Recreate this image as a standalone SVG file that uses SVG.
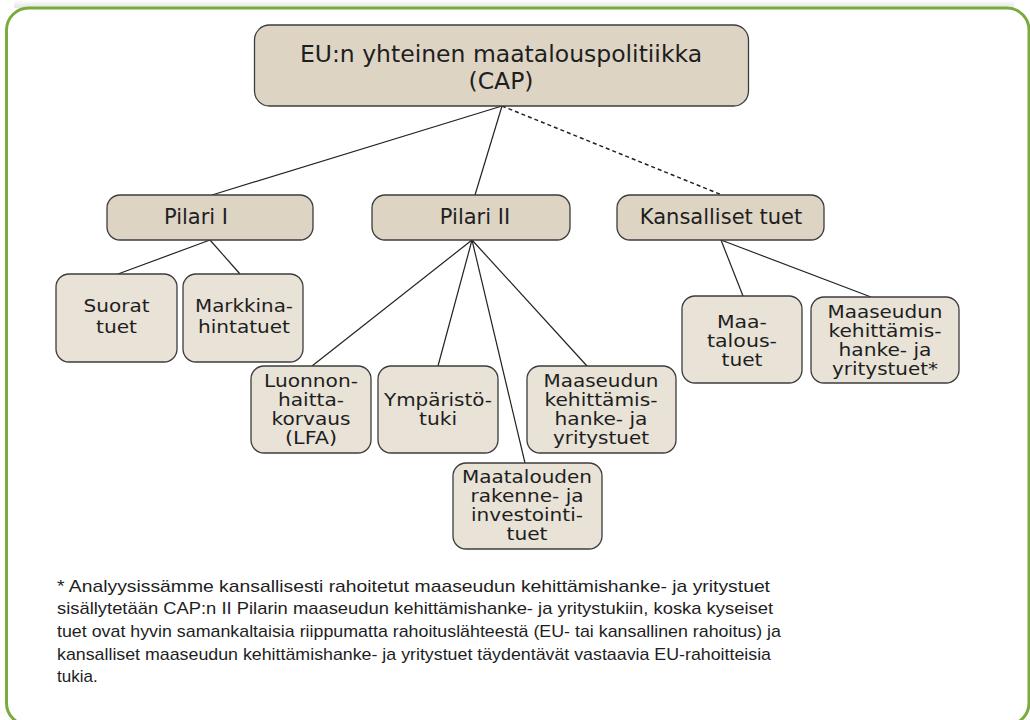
<svg xmlns="http://www.w3.org/2000/svg" width="1030" height="720" viewBox="0 0 1030 720">
<defs>
<linearGradient id="shadow" x1="0" y1="0" x2="0" y2="1">
<stop offset="0" stop-color="#ffffff"/>
<stop offset="1" stop-color="#e4e4e4"/>
</linearGradient>
</defs>
<style>
.frame{fill:#ffffff;stroke:#7aab3c;stroke-width:3}
.hd{fill:#ddd4c4;stroke:#3c3c3c;stroke-width:1.3}
.lf{fill:#e8e2d7;stroke:#3c3c3c;stroke-width:1.3}
.t{font-family:"DejaVu Sans",sans-serif;fill:#1e1e1e;text-anchor:middle}
.t24{font-size:23.5px}
.t21{font-size:21px}
.s{font-size:17.5px}
.fn{font-family:"Liberation Sans",Arial,sans-serif;font-size:17px;fill:#1e1e1e}
.cn{stroke:#222;stroke-width:1.2;fill:none}
.dash{stroke-dasharray:4 3;stroke-width:1.6}
</style>
<rect x="0" y="0" width="1030" height="720" fill="#ffffff"/>
<rect x="14" y="0" width="1000" height="8" fill="url(#shadow)"/>
<rect class="frame" x="6.5" y="8" width="1022.5" height="717" rx="22"/>
<g id="connectors">
<line class="cn" x1="502" y1="106" x2="212" y2="195"/>
<line class="cn" x1="502" y1="106" x2="475" y2="195"/>
<line class="cn dash" x1="502" y1="106" x2="722" y2="195"/>
<line class="cn" x1="210" y1="240" x2="118" y2="274"/>
<line class="cn" x1="210" y1="240" x2="240" y2="274"/>
<line class="cn" x1="472" y1="240" x2="312" y2="366"/>
<line class="cn" x1="472" y1="240" x2="438" y2="366"/>
<line class="cn" x1="472" y1="240" x2="525" y2="463"/>
<line class="cn" x1="472" y1="240" x2="587" y2="366"/>
<line class="cn" x1="721" y1="240" x2="743" y2="296"/>
<line class="cn" x1="721" y1="240" x2="871" y2="297"/>
</g>
<g id="cap">
<rect class="hd" x="254.5" y="25" width="494" height="81" rx="15"/>
<text class="t t24" x="501" y="62">EU:n yhteinen maatalouspolitiikka</text>
<text class="t t24" x="501" y="89">(CAP)</text>
</g>
<g id="pilari1">
<rect class="hd" x="107" y="195" width="206" height="45" rx="13"/>
<text class="t t21" x="196" y="224">Pilari I</text>
</g>
<g id="pilari2">
<rect class="hd" x="372" y="195" width="198" height="45" rx="13"/>
<text class="t t21" x="475" y="224">Pilari II</text>
</g>
<g id="kansalliset">
<rect class="hd" x="617" y="195" width="207" height="45" rx="13"/>
<text class="t t21" x="721" y="224">Kansalliset tuet</text>
</g>
<g id="suorat">
<rect class="lf" x="56" y="274" width="121" height="88" rx="13"/>
<text class="t s" x="116.5" y="312" textLength="66" lengthAdjust="spacingAndGlyphs">Suorat</text>
<text class="t s" x="116.5" y="333" textLength="41" lengthAdjust="spacingAndGlyphs">tuet</text>
</g>
<g id="markkina">
<rect class="lf" x="183" y="274" width="120" height="88" rx="13"/>
<text class="t s" x="244" y="312" textLength="98" lengthAdjust="spacingAndGlyphs">Markkina-</text>
<text class="t s" x="244" y="333" textLength="92" lengthAdjust="spacingAndGlyphs">hintatuet</text>
</g>
<g id="luonnon">
<rect class="lf" x="251" y="366" width="120" height="87" rx="13"/>
<text class="t s" x="311" y="387" textLength="94" lengthAdjust="spacingAndGlyphs">Luonnon-</text>
<text class="t s" x="311" y="406" textLength="66" lengthAdjust="spacingAndGlyphs">haitta-</text>
<text class="t s" x="311" y="425" textLength="79" lengthAdjust="spacingAndGlyphs">korvaus</text>
<text class="t s" x="311" y="444" textLength="52" lengthAdjust="spacingAndGlyphs">(LFA)</text>
</g>
<g id="ymparisto">
<rect class="lf" x="378" y="366" width="120" height="87" rx="13"/>
<text class="t s" x="438" y="406" textLength="108" lengthAdjust="spacingAndGlyphs">Ympäristö-</text>
<text class="t s" x="438" y="425" textLength="38" lengthAdjust="spacingAndGlyphs">tuki</text>
</g>
<g id="maaseudun2">
<rect class="lf" x="527" y="366" width="149" height="87" rx="13"/>
<text class="t s" x="601" y="387" textLength="115" lengthAdjust="spacingAndGlyphs">Maaseudun</text>
<text class="t s" x="601" y="406" textLength="113" lengthAdjust="spacingAndGlyphs">kehittämis-</text>
<text class="t s" x="601" y="425" textLength="93" lengthAdjust="spacingAndGlyphs">hanke- ja</text>
<text class="t s" x="601" y="444" textLength="96" lengthAdjust="spacingAndGlyphs">yritystuet</text>
</g>
<g id="maatalouden">
<rect class="lf" x="453" y="463" width="149" height="86" rx="13"/>
<text class="t s" x="527" y="483" textLength="130" lengthAdjust="spacingAndGlyphs">Maatalouden</text>
<text class="t s" x="527" y="502" textLength="113" lengthAdjust="spacingAndGlyphs">rakenne- ja</text>
<text class="t s" x="527" y="521" textLength="112" lengthAdjust="spacingAndGlyphs">investointi-</text>
<text class="t s" x="527" y="540" textLength="41" lengthAdjust="spacingAndGlyphs">tuet</text>
</g>
<g id="maatalous">
<rect class="lf" x="682" y="296" width="120" height="87" rx="13"/>
<text class="t s" x="742" y="328" textLength="50" lengthAdjust="spacingAndGlyphs">Maa-</text>
<text class="t s" x="742" y="347" textLength="70" lengthAdjust="spacingAndGlyphs">talous-</text>
<text class="t s" x="742" y="366" textLength="41" lengthAdjust="spacingAndGlyphs">tuet</text>
</g>
<g id="maaseudun-k">
<rect class="lf" x="811" y="297" width="148" height="86" rx="13"/>
<text class="t s" x="885" y="318" textLength="115" lengthAdjust="spacingAndGlyphs">Maaseudun</text>
<text class="t s" x="885" y="337" textLength="113" lengthAdjust="spacingAndGlyphs">kehittämis-</text>
<text class="t s" x="885" y="356" textLength="93" lengthAdjust="spacingAndGlyphs">hanke- ja</text>
<text class="t s" x="885" y="375" textLength="106" lengthAdjust="spacingAndGlyphs">yritystuet*</text>
</g>
<g id="footnote">
<text class="fn" x="57" y="592" textLength="713" lengthAdjust="spacingAndGlyphs">* Analyysissämme kansallisesti rahoitetut maaseudun kehittämishanke- ja yritystuet</text>
<text class="fn" x="57" y="614" textLength="716" lengthAdjust="spacingAndGlyphs">sisällytetään CAP:n II Pilarin maaseudun kehittämishanke- ja yritystukiin, koska kyseiset</text>
<text class="fn" x="57" y="637" textLength="724" lengthAdjust="spacingAndGlyphs">tuet ovat hyvin samankaltaisia riippumatta rahoituslähteestä (EU- tai kansallinen rahoitus) ja</text>
<text class="fn" x="57" y="660" textLength="714" lengthAdjust="spacingAndGlyphs">kansalliset maaseudun kehittämishanke- ja yritystuet täydentävät vastaavia EU-rahoitteisia</text>
<text class="fn" x="57" y="682">tukia.</text>
</g>
</svg>
